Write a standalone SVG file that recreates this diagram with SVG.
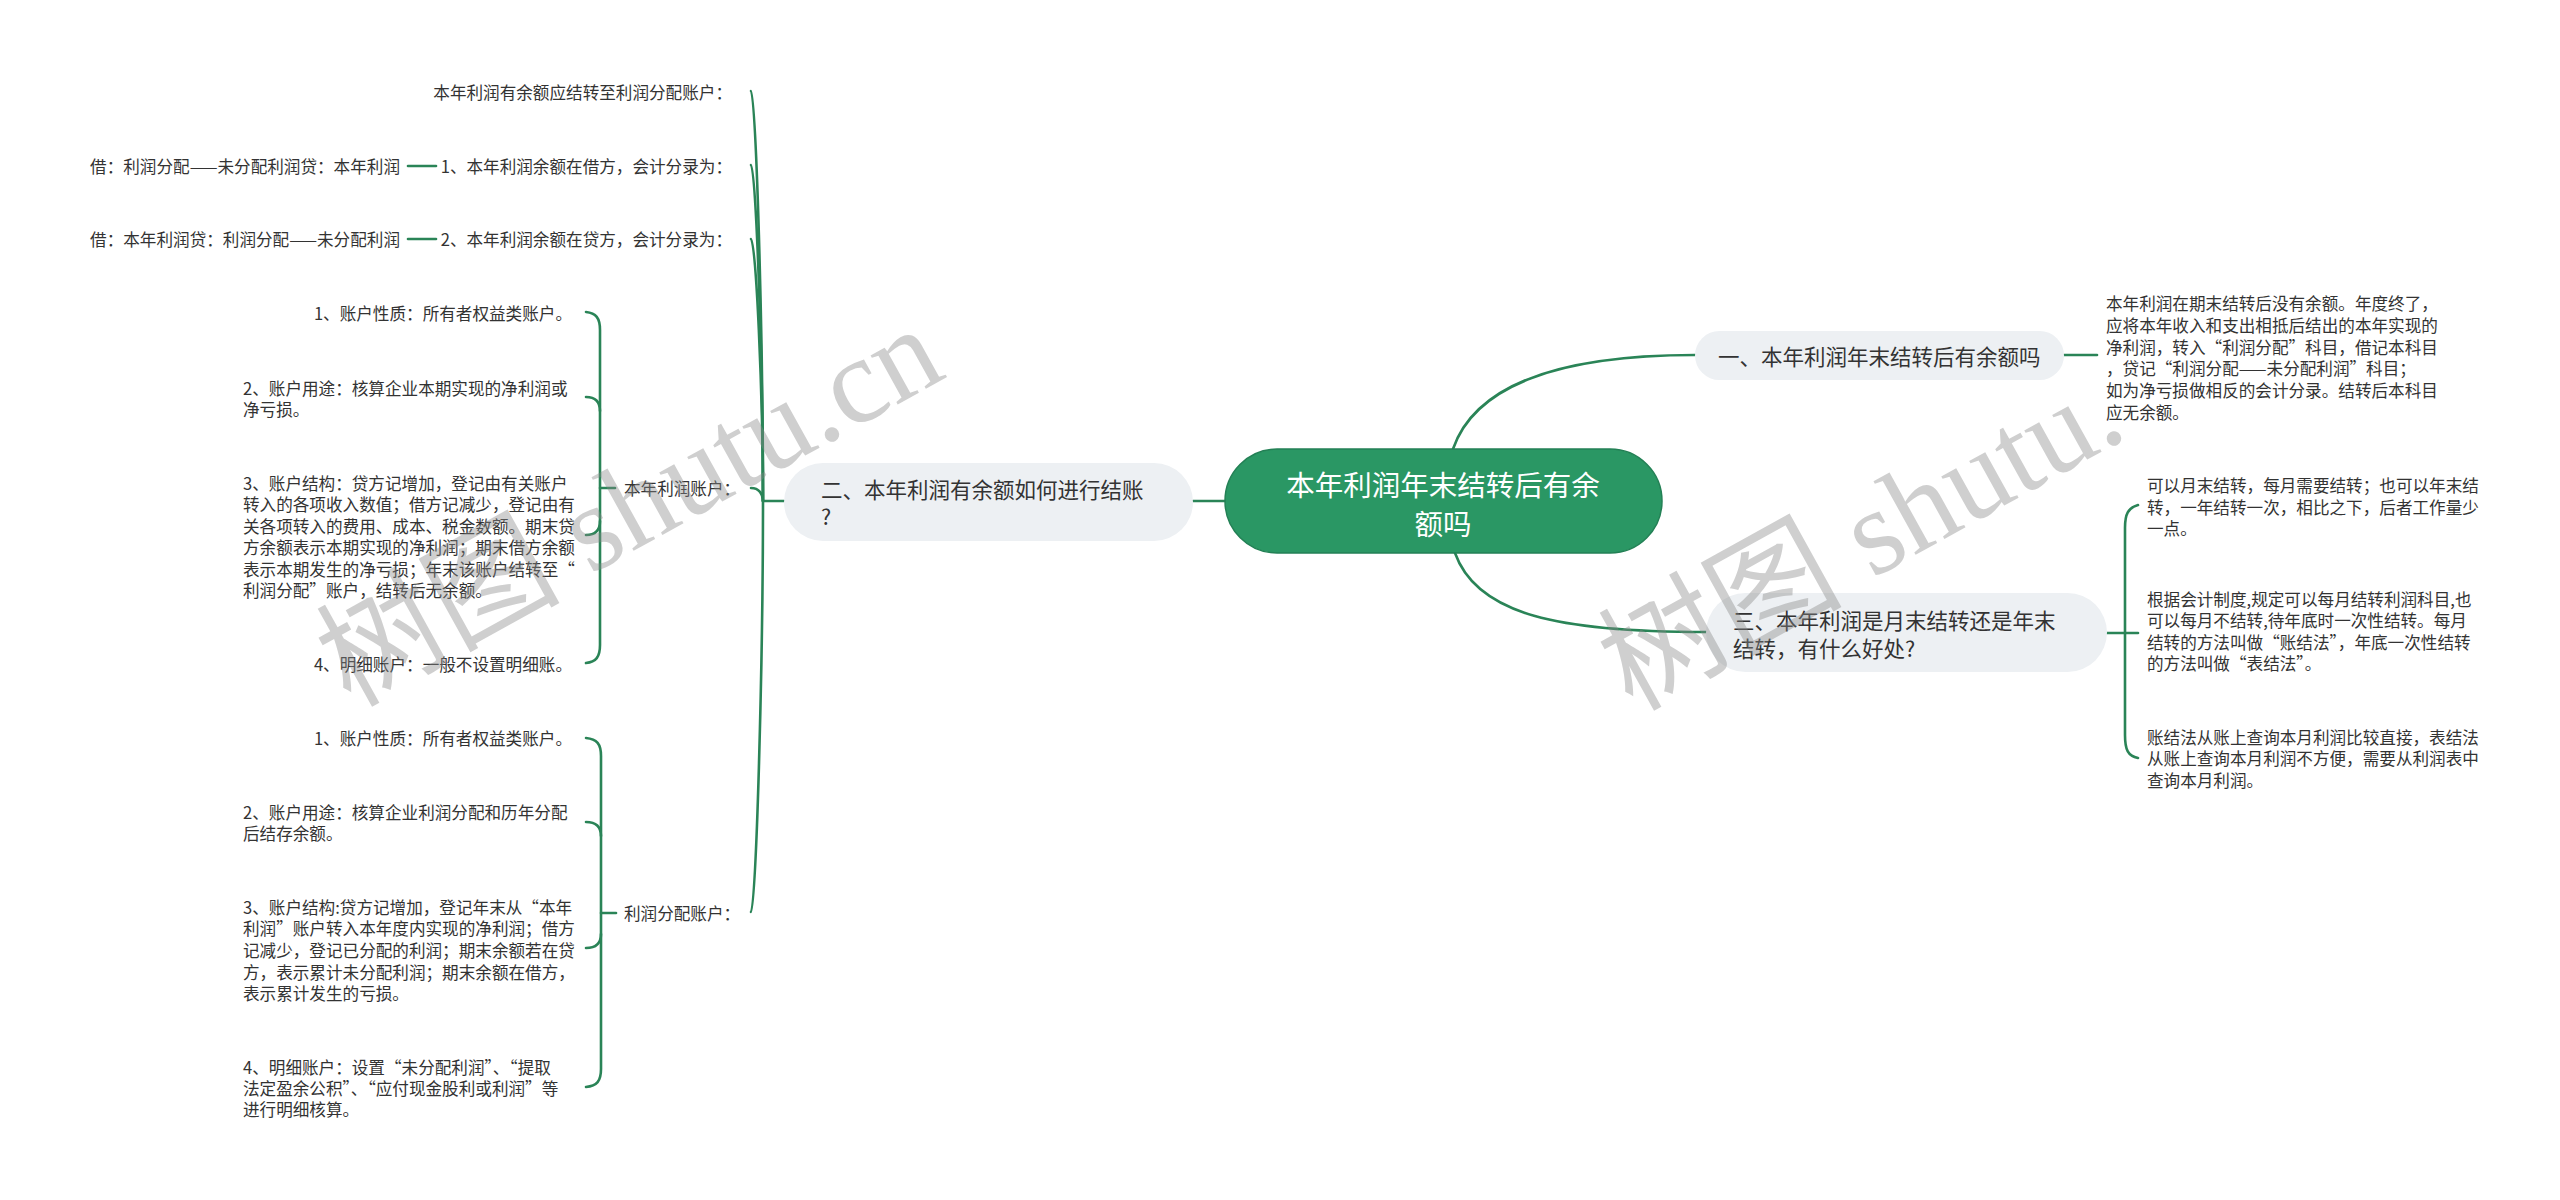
<svg xmlns="http://www.w3.org/2000/svg" width="2560" height="1200" viewBox="0 0 2560 1200">
<style>
.t{font-family:"Noto Sans CJK SC","Noto Sans",sans-serif;font-size:16.6px;fill:#333;dominant-baseline:central}
.b{font-family:"Noto Sans CJK SC","Noto Sans",sans-serif;font-size:21.5px;fill:#333;dominant-baseline:central}
.c{font-family:"Noto Sans CJK SC","Noto Sans",sans-serif;font-size:28.5px;fill:#fff;dominant-baseline:central;text-anchor:middle}
.e{text-anchor:end}
.ln{fill:none;stroke:#2a8457;stroke-width:2.6;stroke-linecap:round}
.gray{fill:#edf0f3}
.wm{font-family:"Liberation Serif","Noto Sans CJK SC",serif;font-size:122px;fill:#888;opacity:0.4}
</style>
<rect width="2560" height="1200" fill="#fff"/>
<g id="connectors">
<path class="ln" d="M1225,501 L1193,501"/>
<path class="ln" d="M1453,449 C1475,385 1560,355 1695,355"/>
<path class="ln" d="M1455,553 C1477,615 1560,632 1706,632"/>
<path class="ln" d="M784,501 L763,501"/>
<path class="ln" d="M751,91 C756,91 763,337 763,501"/>
<path class="ln" d="M751,165 C756,165 763,367 763,501"/>
<path class="ln" d="M751,239 C756,239 763,396 763,501"/>
<path class="ln" d="M751,488 C759,488 763,494 763,501"/>
<path class="ln" d="M751,912 C756,912 763,665 763,501"/>
<path class="ln" d="M408,166 L436,166"/>
<path class="ln" d="M408,239 L436,239"/>
<path class="ln" d="M615,488 L600,488"/>
<path class="ln" d="M586,312 C596,313 600,318 600,330 L600,645 C600,657 596,662 586,663"/>
<path class="ln" d="M586,397 Q600,397 600,411"/>
<path class="ln" d="M586,535 Q600,535 600,521"/>
<path class="ln" d="M616,913 L601,913"/>
<path class="ln" d="M586,738 C597,739 601,744 601,756 L601,1069 C601,1081 597,1086 586,1087"/>
<path class="ln" d="M586,822 Q601,822 601,836"/>
<path class="ln" d="M586,948 Q601,948 601,934"/>
<path class="ln" d="M2064,355 L2097,355"/>
<path class="ln" d="M2107,633 L2138,633"/>
<path class="ln" d="M2138,505 C2128,508 2125,514 2125,528 L2125,735 C2125,750 2128,756 2138,758"/>
</g>
<g id="root">
<rect x="1225" y="449" width="437" height="104" rx="52" fill="#2a9764" stroke="#238055" stroke-width="1.5"/>
<text class="c" x="1443" y="483">本年利润年末结转后有余</text>
<text class="c" x="1443" y="522">额吗</text>
</g>
<g id="n1">
<rect class="gray" x="1695" y="331" width="369" height="49" rx="24.5"/>
<text class="b" x="1718" y="355">一、本年利润年末结转后有余额吗</text>
</g>
<g id="n1-text">
<text class="t" x="2106" y="303">本年利润在期末结转后没有余额。年度终了，</text>
<text class="t" x="2106" y="325">应将本年收入和支出相抵后结出的本年实现的</text>
<text class="t" x="2106" y="347">净利润，转入“利润分配”科目，借记本科目</text>
<text class="t" x="2106" y="368">，贷记“利润分配——未分配利润”科目；</text>
<text class="t" x="2106" y="390">如为净亏损做相反的会计分录。结转后本科目</text>
<text class="t" x="2106" y="412">应无余额。</text>
</g>
<g id="n2">
<rect class="gray" x="784" y="463" width="409" height="78" rx="39"/>
<text class="b" x="821" y="488">二、本年利润有余额如何进行结账</text>
<text class="b" x="821" y="515">?</text>
</g>
<g id="n3">
<rect class="gray" x="1706" y="593" width="401" height="79" rx="39.5"/>
<text class="b" x="1733" y="619">三、本年利润是月末结转还是年末</text>
<text class="b" x="1733" y="647">结转，有什么好处?</text>
</g>
<g id="n3-a">
<text class="t" x="2147" y="485">可以月末结转，每月需要结转；也可以年末结</text>
<text class="t" x="2147" y="507">转，一年结转一次，相比之下，后者工作量少</text>
<text class="t" x="2147" y="528">一点。</text>
</g>
<g id="n3-b">
<text class="t" x="2147" y="599">根据会计制度,规定可以每月结转利润科目,也</text>
<text class="t" x="2147" y="620">可以每月不结转,待年底时一次性结转。每月</text>
<text class="t" x="2147" y="642">结转的方法叫做“账结法”，年底一次性结转</text>
<text class="t" x="2147" y="663">的方法叫做“表结法”。</text>
</g>
<g id="n3-c">
<text class="t" x="2147" y="737">账结法从账上查询本月利润比较直接，表结法</text>
<text class="t" x="2147" y="758">从账上查询本月利润不方便，需要从利润表中</text>
<text class="t" x="2147" y="780">查询本月利润。</text>
</g>
<g id="l1">
<text class="t e" x="732" y="92">本年利润有余额应结转至利润分配账户：</text>
</g>
<g id="l2">
<text class="t e" x="732" y="166">1、本年利润余额在借方，会计分录为：</text>
</g>
<g id="l2a">
<text class="t e" x="400" y="166">借：利润分配——未分配利润贷：本年利润</text>
</g>
<g id="l3">
<text class="t e" x="732" y="239">2、本年利润余额在贷方，会计分录为：</text>
</g>
<g id="l3a">
<text class="t e" x="400" y="239">借：本年利润贷：利润分配——未分配利润</text>
</g>
<g id="l4">
<text class="t" x="624" y="488">本年利润账户：</text>
</g>
<g id="l4-1"><text class="t e" x="572" y="313">1、账户性质：所有者权益类账户。</text></g>
<g id="l4-2">
<text class="t" x="243" y="388">2、账户用途：核算企业本期实现的净利润或</text>
<text class="t" x="243" y="409">净亏损。</text>
</g>
<g id="l4-3">
<text class="t" x="243" y="483">3、账户结构：贷方记增加，登记由有关账户</text>
<text class="t" x="243" y="504">转入的各项收入数值；借方记减少，登记由有</text>
<text class="t" x="243" y="526">关各项转入的费用、成本、税金数额。期末贷</text>
<text class="t" x="243" y="547">方余额表示本期实现的净利润；期末借方余额</text>
<text class="t" x="243" y="569">表示本期发生的净亏损；年末该账户结转至“</text>
<text class="t" x="243" y="590">利润分配”账户，结转后无余额。</text>
</g>
<g id="l4-4"><text class="t e" x="572" y="664">4、明细账户：一般不设置明细账。</text></g>
<g id="l5">
<text class="t" x="624" y="913">利润分配账户：</text>
</g>
<g id="l5-1"><text class="t e" x="572" y="738">1、账户性质：所有者权益类账户。</text></g>
<g id="l5-2">
<text class="t" x="243" y="812">2、账户用途：核算企业利润分配和历年分配</text>
<text class="t" x="243" y="833">后结存余额。</text>
</g>
<g id="l5-3">
<text class="t" x="243" y="907">3、账户结构:贷方记增加，登记年末从“本年</text>
<text class="t" x="243" y="928">利润”账户转入本年度内实现的净利润；借方</text>
<text class="t" x="243" y="950">记减少，登记已分配的利润；期末余额若在贷</text>
<text class="t" x="243" y="972">方，表示累计未分配利润；期末余额在借方，</text>
<text class="t" x="243" y="993">表示累计发生的亏损。</text>
</g>
<g id="l5-4">
<text class="t" x="243" y="1067">4、明细账户：设置“未分配利润”、“提取</text>
<text class="t" x="243" y="1088">法定盈余公积”、“应付现金股利或利润”等</text>
<text class="t" x="243" y="1109">进行明细核算。</text>
</g>
<g id="watermark">
<text class="wm" transform="translate(350,708) rotate(-29)">树图 shutu.cn</text>
<text class="wm" transform="translate(1632,712) rotate(-29)">树图 shutu.</text>
</g>
</svg>
